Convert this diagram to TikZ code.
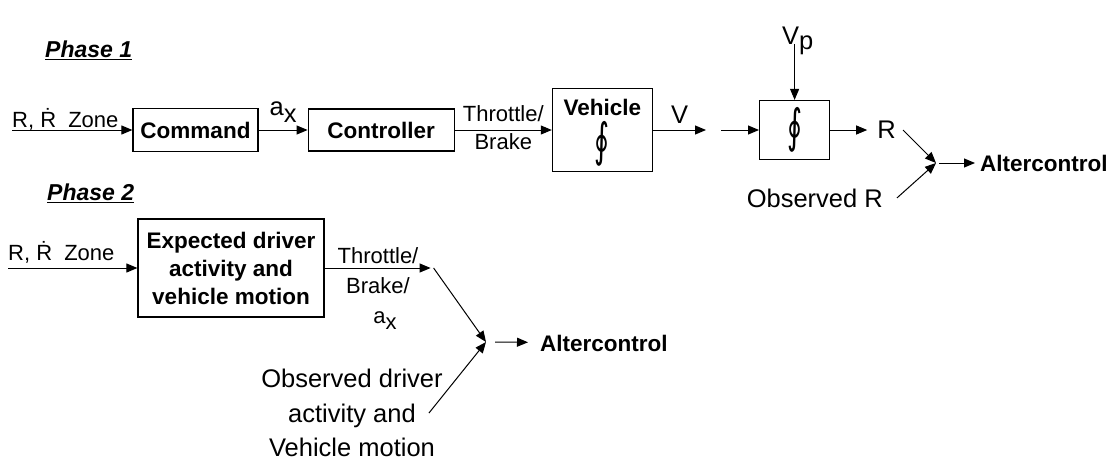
\documentclass[tikz,border=0pt]{standalone}
\usepackage{fontspec}
\setmainfont{Liberation Sans}
\newfontfamily\symfont{DejaVu Sans}
\newcommand{\loopint}{\scalebox{0.9}[1.45]{\symfont\mdseries\fontsize{32}{32}\selectfont ∮}}
\usetikzlibrary{arrows.meta,positioning}

\begin{document}
\begin{tikzpicture}[
				x=1pt, y=-1pt,
				node distance=49pt and 49pt,
				blk/.style={
					rectangle,
					draw=black,
					line width=1.2pt,
					inner sep=2pt,
					align=center,
					font=\fontsize{22.5}{28}\selectfont\bfseries
				},
				lbl/.style={inner sep=0pt, align=center, font=\fontsize{22}{30}\selectfont},
				big/.style={inner sep=0pt, align=center, font=\fontsize{25.5}{34.5}\selectfont},
				phase/.style={inner sep=0pt, font=\fontsize{23}{23}\selectfont\bfseries\itshape},
				outp/.style={inner sep=0pt, anchor=west, font=\fontsize{22.5}{22.5}\selectfont\bfseries},
				arrow/.style={-{Triangle[length=11pt,width=9pt]},line width=1pt,draw=black},
				uline/.style={line width=1.6pt}
				]
				\useasboundingbox (0,0) rectangle (1114,464);
				\node[phase, anchor=base west] (ph1) at (45,57) {Phase 1};
				\coordinate (in1) at (12,130);
				\node[lbl, anchor=base west] (zone1) at (12,127) {R, \.{R}\hspace{0.55em}Zone};
				\node[blk, minimum width=125pt, minimum height=43pt] (cmd) at (195.5,130) {Command};
				\node[blk, minimum width=146pt, minimum height=42pt, right=49pt of cmd] (ctrl) {Controller};
				\node[blk, minimum width=100pt, minimum height=83pt, right=97pt of ctrl] (veh) {\rule{0pt}{22pt}Vehicle\\[4pt]\loopint};
				\coordinate[right=53pt of veh] (vend);
				\coordinate[right=15pt of vend] (vstart);
				\node[blk, minimum width=70pt, minimum height=59pt, right=38pt of vstart] (integ) {\loopint};
				\node[big, anchor=base west] (vp) at (782,44) {V\raisebox{-5pt}[0pt][0pt]{p}};
				\node[big, right=47pt of integ] (r1) {R};
				\node[big, anchor=base east] (obsr) at (883,207) {Observed R};
				\coordinate (j1) at (936,163);
				\node[outp] (alt1) at (980,163) {Altercontrol};
				
				\draw[uline] ([yshift=-2.5pt]ph1.base west) -- ([yshift=-2.5pt]ph1.base east);
				\draw[arrow] (in1) -- (cmd);
				\draw[arrow] (cmd) -- node[big, above=7pt] (ax1) {a\raisebox{-7pt}{x}} (ctrl);
				\draw[arrow] (ctrl) -- node[lbl, yshift=2pt] (tb1) {Throttle/\\[-2pt]Brake} (veh);
				\draw[arrow] (veh) -- node[big, above=6pt] (vlab) {V} (vend);
				\draw[arrow] (vstart) -- (integ);
				\draw[arrow] (vp.south -| integ.north) -- (integ.north);
				\draw[arrow, shorten >=10pt] (integ) -- (r1);
				\draw[arrow] ([xshift=7pt]r1.east) -- (j1);
				\draw[arrow] ([xshift=14pt]obsr.east) -- (j1);
				\draw[arrow, shorten >=5pt] ([xshift=3pt]j1) -- (alt1);
				
				\node[phase, anchor=base west] (ph2) at (47,200) {Phase 2};
				\coordinate (in2) at (8,268);
				\node[lbl, anchor=base west] (zone2) at (8,260) {R, \.{R}\hspace{0.55em}Zone};
				\node[blk, minimum width=186pt, minimum height=98pt] (exp) at (231,268) {Expected driver\\activity and\\vehicle motion};
				\coordinate[right=106pt of exp] (tb2end);
				\node[lbl, anchor=north] (tb2) at (378,247) {Throttle/\\Brake/\\\hspace*{14pt}a\raisebox{-6pt}{x}};
				\node[big, anchor=north] (obsd) at (352,369) {Observed driver\\activity and\\Vehicle motion};
				\coordinate (j2) at (486,342);
				\node[outp] (alt2) at (540,343) {Altercontrol};
				
				\draw[uline] ([yshift=-2.5pt]ph2.base west) -- ([yshift=-2.5pt]ph2.base east);
				\draw[arrow] (in2) -- (exp);
				\draw[arrow] (exp) -- (tb2end);
				\draw[arrow] ([xshift=3pt]tb2end) -- (j2);
				\draw[arrow] ([xshift=-14pt]obsd.east) -- (j2);
				\draw[arrow, shorten >=12pt] ([xshift=9pt]j2) -- (alt2);
		\end{tikzpicture}
\end{document}
